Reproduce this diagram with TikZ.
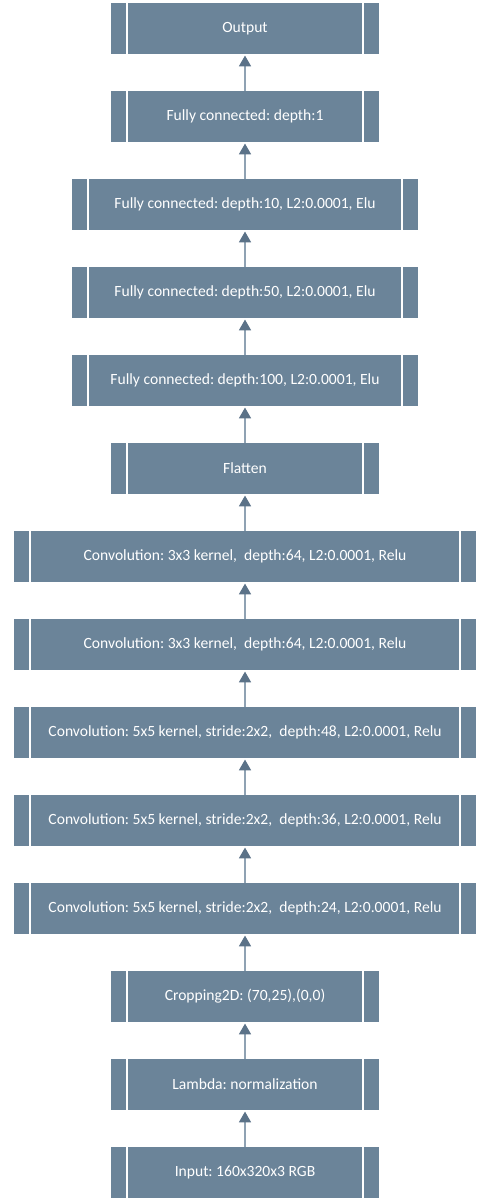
\documentclass[tikz,border=0pt]{standalone}
\usepackage{fontspec}
\setmainfont{Carlito}
\frenchspacing
\usetikzlibrary{arrows.meta}
\definecolor{boxfill}{HTML}{6B8499}
\definecolor{arrowline}{HTML}{8FA2B3}
\definecolor{arrowhead}{HTML}{5B7288}
\begin{document}
\begin{tikzpicture}[x=0.75pt,y=-0.75pt,
  layer/.style={fill=boxfill, draw=none, minimum height=38.25pt, inner sep=0pt,
    text=white, font=\fontsize{11.7}{14}\selectfont\frenchspacing,
    path picture={
      \draw[white,line width=1.3pt]
        ([xshift=12pt]path picture bounding box.south west) -- ([xshift=12pt]path picture bounding box.north west)
        ([xshift=-12pt]path picture bounding box.south east) -- ([xshift=-12pt]path picture bounding box.north east);
    }},
  narrow/.style={layer, minimum width=201pt},
  medium/.style={layer, minimum width=259.5pt},
  wide/.style={layer, minimum width=346.5pt},
  flow/.style={draw=arrowline, line width=0.9pt, shorten >=1pt,
    -{Triangle[length=8pt,width=9pt,color=arrowhead]}}
]
\useasboundingbox (0,0) rectangle (490,1201);
\node[narrow] (out)    at (245,28.5)   {Output};
\node[narrow] (fc1)    at (245,116.5)  {Fully connected: depth:1};
\node[medium] (fc10)   at (245,204.5)  {Fully connected: depth:10, L2:0.0001, Elu};
\node[medium] (fc50)   at (245,292.5)  {Fully connected: depth:50, L2:0.0001, Elu};
\node[medium] (fc100)  at (245,380.5)  {Fully connected: depth:100, L2:0.0001, Elu};
\node[narrow] (flat)   at (245,468.5)  {Flatten};
\node[wide]   (conv64b) at (245,556.5) {Convolution: 3x3 kernel,\ \ depth:64, L2:0.0001, Relu};
\node[wide]   (conv64a) at (245,644.5) {Convolution: 3x3 kernel,\ \ depth:64, L2:0.0001, Relu};
\node[wide]   (conv48) at (245,732.5)  {Convolution: 5x5 kernel, stride:2x2,\ \ depth:48, L2:0.0001, Relu};
\node[wide]   (conv36) at (245,820.5)  {Convolution: 5x5 kernel, stride:2x2,\ \ depth:36, L2:0.0001, Relu};
\node[wide]   (conv24) at (245,908.5)  {Convolution: 5x5 kernel, stride:2x2,\ \ depth:24, L2:0.0001, Relu};
\node[narrow] (crop)   at (245,996.5)  {Cropping2D: (70,25),(0,0)};
\node[narrow] (lam)    at (245,1084.5) {Lambda: normalization};
\node[narrow] (inp)    at (245,1172.5) {Input: 160x320x3 RGB};
\draw[flow] (inp.north) -- (lam.south);
\draw[flow] (lam.north) -- (crop.south);
\draw[flow] (crop.north) -- (conv24.south);
\draw[flow] (conv24.north) -- (conv36.south);
\draw[flow] (conv36.north) -- (conv48.south);
\draw[flow] (conv48.north) -- (conv64a.south);
\draw[flow] (conv64a.north) -- (conv64b.south);
\draw[flow] (conv64b.north) -- (flat.south);
\draw[flow] (flat.north) -- (fc100.south);
\draw[flow] (fc100.north) -- (fc50.south);
\draw[flow] (fc50.north) -- (fc10.south);
\draw[flow] (fc10.north) -- (fc1.south);
\draw[flow] (fc1.north) -- (out.south);
\end{tikzpicture}
\end{document}
